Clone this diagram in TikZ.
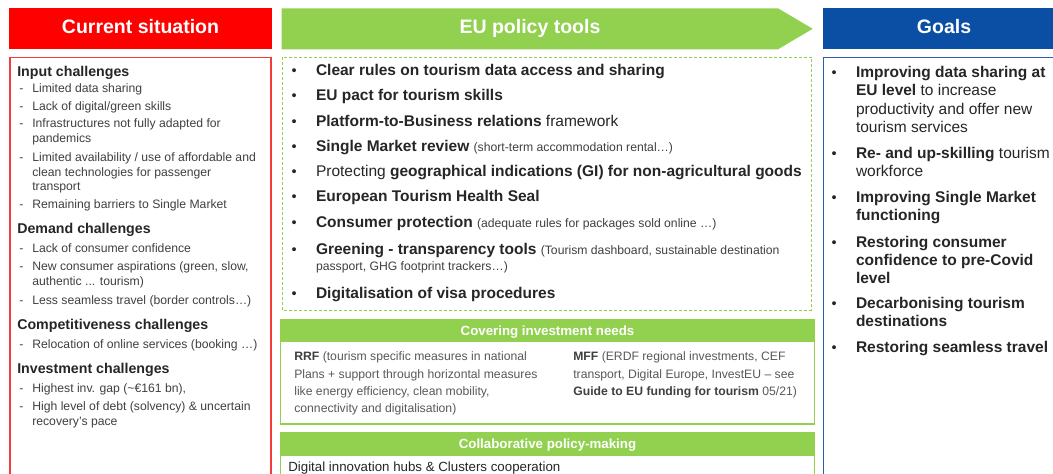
\documentclass[tikz,border=0pt]{standalone}
\usepackage{fontspec}
\setmainfont{Liberation Sans}
\definecolor{hdrred}{RGB}{255,0,0}
\definecolor{boxred}{RGB}{245,60,60}
\definecolor{eugreen}{RGB}{146,208,80}
\definecolor{hdrblue}{RGB}{10,79,163}
\definecolor{boxblue}{RGB}{46,94,168}
\definecolor{headgray}{RGB}{38,38,38}
\definecolor{txtgray}{RGB}{64,64,64}
\definecolor{lightgray}{RGB}{89,89,89}
\newcommand\fsz[2]{\fontsize{#1}{#2}\selectfont}
\begin{document}
\begin{tikzpicture}[x=1pt,y=-1pt,
  txt/.style={anchor=base west,inner sep=0pt,outer sep=0pt},
  hdrtext/.style={anchor=base,inner sep=0pt,text=white,font=\bfseries\fsz{19.5}{22}},
  barlabel/.style={anchor=base,inner sep=0pt,text=white,font=\bfseries\fsz{13.3}{15}},
  lhead/.style={txt,text=headgray,font=\bfseries\fsz{14.2}{16}},
  ltxt/.style={txt,text=txtgray,font=\fsz{12.2}{15}},
  mtxt/.style={txt,text=headgray,font=\fsz{15.5}{18}},
  msmall/.style={txt,text=txtgray,font=\fsz{12.2}{15}},
  ftxt/.style={txt,text=lightgray,font=\fsz{12.2}{15}},
  gtxt/.style={txt,text=headgray,font=\fsz{15.5}{18}},
  bul/.style={txt,text=headgray,font=\fsz{14.5}{16}},
]
\clip (0,0) rectangle (1053,474);
\fill[white] (0,0) rectangle (1053,474);

% ---------- column headers ----------
\fill[hdrred] (9.3,8.3) rectangle (271.7,49.3);
\node[hdrtext] (hcur) at (140.5,33.5) {Current situation};
\fill[eugreen] (281.7,8.3) -- (778,8.3) -- (812.7,28.8) -- (778,49.3) -- (281.7,49.3) -- cycle;
\node[hdrtext] (heu) at (530,33.5) {EU policy tools};
\fill[hdrblue] (822.7,8.3) rectangle (1065,49.3);
\node[hdrtext] (hgoal) at (944,33.5) {Goals};

% ---------- frames ----------
\draw[boxred,line width=1.6pt] (10,490) -- (10,57.5) -- (271,57.5) -- (271,490);
\draw[eugreen,line width=1pt,dash pattern=on 3pt off 2pt] (282.3,57) rectangle (811.7,310);
\draw[boxblue,line width=1.3pt] (823.3,490) -- (823.3,57.5) -- (1065,57.5);

% covering investment needs
\draw[eugreen,line width=1.2pt] (280.3,319.6) rectangle (814.8,424);
\fill[eugreen] (280.3,319.6) rectangle (814.8,341.7);
\node[barlabel] (binv) at (547.5,335.3) {Covering investment needs};

% collaborative policy-making
\draw[eugreen,line width=1.2pt] (280.3,432.6) rectangle (814.8,500);
\fill[eugreen] (280.3,432.6) rectangle (814.8,456);
\node[barlabel] (bcol) at (547.5,448.5) {Collaborative policy-making};

% ---------- current situation ----------
\node[lhead] (ih) at (17.3,76) {Input challenges};
\node[ltxt] (id1) at (19.3,92.3) {-};   \node[ltxt] (i1) at (32.3,92.3) {Limited data sharing};
\node[ltxt] (id2) at (19.3,110) {-};    \node[ltxt] (i2) at (32.3,110) {Lack of digital/green skills};
\node[ltxt] (id3) at (19.3,127.7) {-};  \node[ltxt] (i3) at (32.3,127.7) {Infrastructures not fully adapted for};
\node[ltxt] (i3b) at (32.3,142.7) {pandemics};
\node[ltxt] (id4) at (19.3,161) {-};    \node[ltxt] (i4) at (32.3,161) {Limited availability / use of affordable and};
\node[ltxt] (i4b) at (32.3,176) {clean technologies for passenger};
\node[ltxt] (i4c) at (32.3,190.7) {transport};
\node[ltxt] (id5) at (19.3,208.3) {-};  \node[ltxt] (i5) at (32.3,208.3) {Remaining barriers to Single Market};

\node[lhead] (dh) at (17.3,233.3) {Demand challenges};
\node[ltxt] (dd1) at (19.3,252.7) {-};  \node[ltxt] (d1) at (32.3,252.7) {Lack of consumer confidence};
\node[ltxt] (dd2) at (19.3,270.7) {-};  \node[ltxt] (d2) at (32.3,270.7) {New consumer aspirations (green, slow,};
\node[ltxt] (d2b) at (32.3,285.7) {authentic ... tourism)};
\node[ltxt] (dd3) at (19.3,304) {-};    \node[ltxt] (d3) at (32.3,304) {Less seamless travel (border controls…)};

\node[lhead] (ch) at (17.3,329.3) {Competitiveness challenges};
\node[ltxt] (cd1) at (19.3,348.3) {-};  \node[ltxt] (c1) at (32.3,348.3) {Relocation of online services (booking …)};

\node[lhead] (vh) at (17.3,373.3) {Investment challenges};
\node[ltxt] (vd1) at (19.3,392.3) {-};  \node[ltxt] (v1) at (32.3,392.3) {Highest inv. gap (\textasciitilde€161 bn),};
\node[ltxt] (vd2) at (19.3,410) {-};    \node[ltxt] (v2) at (32.3,410) {High level of debt (solvency) \& uncertain};
\node[ltxt] (v2b) at (32.3,425) {recovery’s pace};

% ---------- EU policy tools ----------
\node[bul] (mb1) at (291.5,75) {•};  \node[mtxt] (m1) at (316,75) {\bfseries Clear rules on tourism data access and sharing};
\node[bul] (mb2) at (291.5,100.7) {•}; \node[mtxt] (m2) at (316,100.7) {\bfseries EU pact for tourism skills};
\node[bul] (mb3) at (291.5,126) {•}; \node[mtxt] (m3) at (316,126) {\textbf{Platform-to-Business relations} framework};
\node[bul] (mb4) at (291.5,151.7) {•}; \node[mtxt] (m4) at (316,151.7) {\textbf{Single Market review} {\color{txtgray}\fsz{12.2}{15}(short-term accommodation rental…)}};
\node[bul] (mb5) at (291.5,176.7) {•}; \node[mtxt] (m5) at (316,176.7) {Protecting \textbf{geographical indications (GI) for non-agricultural goods}};
\node[bul] (mb6) at (291.5,201.7) {•}; \node[mtxt] (m6) at (316,201.7) {\bfseries European Tourism Health Seal};
\node[bul] (mb7) at (291.5,227.7) {•}; \node[mtxt] (m7) at (316,227.7) {\textbf{Consumer protection} {\color{txtgray}\fsz{12.2}{15}(adequate rules for packages sold online …)}};
\node[bul] (mb8) at (291.5,254) {•}; \node[mtxt] (m8) at (316,254) {\textbf{Greening - transparency tools} {\color{txtgray}\fsz{12.2}{15}(Tourism dashboard, sustainable destination}};
\node[msmall] (m8b) at (316,270) {passport, GHG footprint trackers…)};
\node[bul] (mb9) at (291.5,298.3) {•}; \node[mtxt] (m9) at (316,298.3) {\bfseries Digitalisation of visa procedures};

% funding
\node[ftxt] (r1) at (294.3,360.7) {{\color{txtgray}\bfseries RRF} (tourism specific measures in national};
\node[ftxt] (r2) at (294.3,378.3) {Plans + support through horizontal measures};
\node[ftxt] (r3) at (294.3,395.7) {like energy efficiency, clean mobility,};
\node[ftxt] (r4) at (294.3,412.7) {connectivity and digitalisation)};
\node[ftxt] (f1) at (573.3,360.7) {{\color{txtgray}\bfseries MFF} (ERDF regional investments, CEF};
\node[ftxt] (f2) at (573.3,378.3) {transport, Digital Europe, InvestEU – see};
\node[ftxt] (f3) at (573.3,395.7) {{\color{txtgray}\bfseries Guide to EU funding for tourism} 05/21)};

\node[txt,text=headgray,font=\fsz{13.3}{15}] (co1) at (288.3,471.7) {Digital innovation hubs \& Clusters cooperation};

% ---------- goals ----------
\node[bul] (gb1) at (831.5,77) {•}; \node[gtxt] (g1) at (856,77) {\bfseries Improving data sharing at};
\node[gtxt] (g1b) at (856,95.5) {\textbf{EU level} to increase};
\node[gtxt] (g1c) at (856,114) {productivity and offer new};
\node[gtxt] (g1d) at (856,132.5) {tourism services};
\node[bul] (gb2) at (831.5,158) {•}; \node[gtxt] (g2) at (856,158) {\textbf{Re- and up-skilling} tourism};
\node[gtxt] (g2b) at (856,176) {workforce};
\node[bul] (gb3) at (831.5,202) {•}; \node[gtxt] (g3) at (856,202) {\bfseries Improving Single Market};
\node[gtxt] (g3b) at (856,220) {\bfseries functioning};
\node[bul] (gb4) at (831.5,247.3) {•}; \node[gtxt] (g4) at (856,247.3) {\bfseries Restoring consumer};
\node[gtxt] (g4b) at (856,265.3) {\bfseries confidence to pre-Covid};
\node[gtxt] (g4c) at (856,283.3) {\bfseries level};
\node[bul] (gb5) at (831.5,308.7) {•}; \node[gtxt] (g5) at (856,308.7) {\bfseries Decarbonising tourism};
\node[gtxt] (g5b) at (856,326.7) {\bfseries destinations};
\node[bul] (gb6) at (831.5,352.7) {•}; \node[gtxt] (g6) at (856,352.7) {\bfseries Restoring seamless travel};
\end{tikzpicture}
\end{document}
